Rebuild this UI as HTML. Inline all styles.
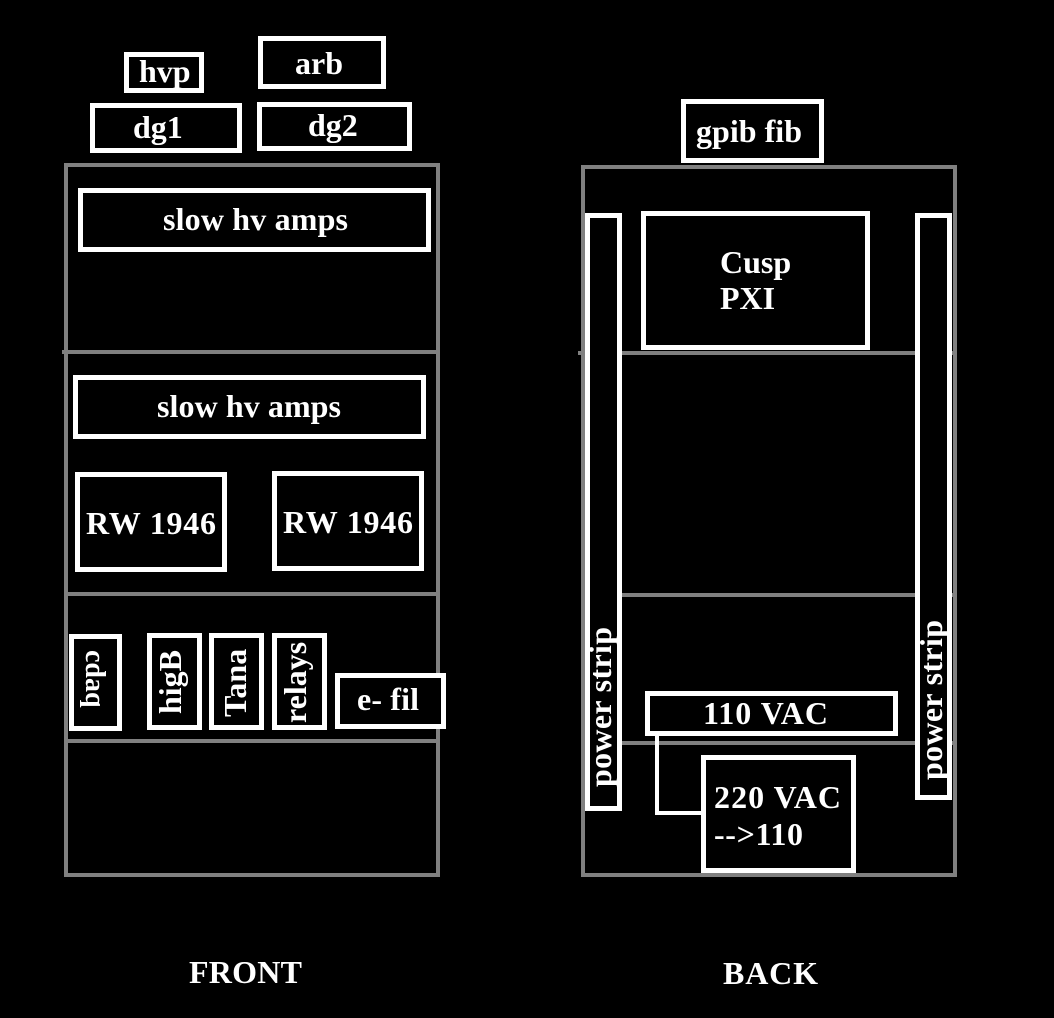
<!DOCTYPE html>
<html>
<head>
<meta charset="utf-8">
<style>
html,body{margin:0;padding:0;background:#000;}
svg{display:block;}
text{font-family:"Liberation Serif","Times New Roman",serif;font-weight:bold;font-size:32px;fill:#fff;}
</style>
</head>
<body>
<svg width="1054" height="1018" viewBox="0 0 1054 1018" xmlns="http://www.w3.org/2000/svg">
<rect x="0" y="0" width="1054" height="1018" fill="#000"/>

<!-- FRONT rack gray lines -->
<g stroke="#808080" stroke-width="4" fill="none" stroke-linecap="square">
  <line x1="66" y1="165" x2="438" y2="165"/>
  <line x1="66" y1="165" x2="66" y2="875"/>
  <line x1="438" y1="165" x2="438" y2="875"/>
  <line x1="66" y1="875" x2="438" y2="875"/>
  <line x1="64" y1="352" x2="438" y2="352"/>
  <line x1="66" y1="594" x2="438" y2="594"/>
  <line x1="66" y1="741" x2="438" y2="741"/>
</g>

<!-- BACK rack gray lines -->
<g stroke="#808080" stroke-width="4" fill="none" stroke-linecap="square">
  <line x1="583" y1="167" x2="955" y2="167"/>
  <line x1="583" y1="167" x2="583" y2="875"/>
  <line x1="955" y1="167" x2="955" y2="875"/>
  <line x1="583" y1="875" x2="955" y2="875"/>
  <line x1="580" y1="353" x2="955" y2="353"/>
  <line x1="583" y1="595" x2="955" y2="595"/>
  <line x1="583" y1="743" x2="955" y2="743"/>
</g>

<!-- white boxes -->
<g stroke="#fff" stroke-width="5" fill="#000">
  <rect x="126.5" y="54.5" width="75" height="36"/>
  <rect x="260.5" y="38.5" width="123" height="48"/>
  <rect x="92.5" y="105.5" width="147" height="45"/>
  <rect x="259.5" y="104.5" width="150" height="44"/>
  <rect x="80.5" y="190.5" width="348" height="59"/>
  <rect x="75.5" y="377.5" width="348" height="59"/>
  <rect x="77.5" y="474.5" width="147" height="95"/>
  <rect x="274.5" y="473.5" width="147" height="95"/>
  <rect x="71.5" y="636.5" width="48" height="92"/>
  <rect x="149.5" y="635.5" width="50" height="92"/>
  <rect x="211.5" y="635.5" width="50" height="92"/>
  <rect x="274.5" y="635.5" width="50" height="92"/>
  <rect x="337.5" y="675.5" width="106" height="51"/>

  <rect x="683.5" y="101.5" width="138" height="59"/>
  <rect x="643.5" y="213.5" width="224" height="134"/>
  <rect x="587.5" y="215.5" width="32" height="593"/>
  <rect x="917.5" y="215.5" width="32" height="582"/>
  <rect x="647.5" y="693.5" width="248" height="40"/>
  <rect x="703.5" y="757.5" width="150" height="113"/>
</g>

<!-- connector -->
<polyline points="657,733 657,813 701,813" stroke="#fff" stroke-width="4" fill="none"/>

<!-- labels -->
<text x="139" y="82">hvp</text>
<text x="295" y="74">arb</text>
<text x="133" y="138">dg1</text>
<text x="308" y="136">dg2</text>
<text x="163" y="230" textLength="185" lengthAdjust="spacing">slow hv amps</text>
<text x="157" y="417" textLength="184" lengthAdjust="spacing">slow hv amps</text>
<text x="86" y="534" textLength="130" lengthAdjust="spacing">RW 1946</text>
<text x="283" y="533" textLength="130" lengthAdjust="spacing">RW 1946</text>
<text x="357" y="710" textLength="62" lengthAdjust="spacing">e- fil</text>

<text transform="translate(86,650) rotate(90)" style="font-size:28px">cdaq</text>
<text transform="translate(181,714) rotate(-90)">higB</text>
<text transform="translate(246,717) rotate(-90)">Tana</text>
<text transform="translate(306,723) rotate(-90)">relays</text>

<text x="696" y="142" textLength="106" lengthAdjust="spacing">gpib fib</text>
<text x="720" y="273">Cusp</text>
<text x="720" y="309">PXI</text>
<text x="703" y="724" textLength="125" lengthAdjust="spacing">110 VAC</text>
<text x="714" y="808" textLength="127" lengthAdjust="spacing">220 VAC</text>
<text x="714" y="845" textLength="89" lengthAdjust="spacing">--&gt;110</text>

<text transform="translate(611,787) rotate(-90)" textLength="160" lengthAdjust="spacing">power strip</text>
<text transform="translate(942,780) rotate(-90)" textLength="160" lengthAdjust="spacing">power strip</text>

<text x="189" y="983" textLength="113" lengthAdjust="spacing">FRONT</text>
<text x="723" y="984" textLength="95" lengthAdjust="spacing">BACK</text>
</svg>
</body>
</html>
